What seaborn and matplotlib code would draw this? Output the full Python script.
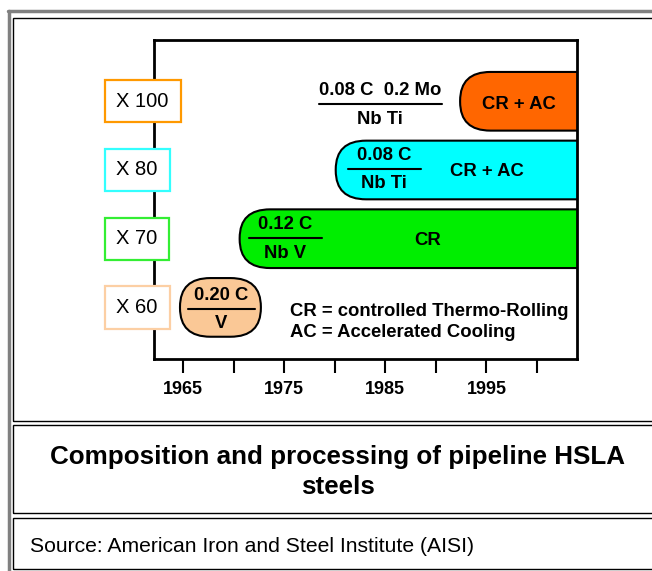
import numpy as np
import pandas as pd
import seaborn as sns
import matplotlib.pyplot as plt
from matplotlib.patches import FancyBboxPatch, Rectangle
from matplotlib.lines import Line2D
import matplotlib.transforms as mtransforms

# data
grades = ['X 100', 'X 80', 'X 70', 'X 60']
start_year = [1992.4, 1980.1, 1970.6, 1964.7]
end_year = [2010.0, 2010.0, 2010.0, 1972.7]
comp_top = ['0.08 C  0.2 Mo', '0.08 C', '0.12 C', '0.20 C']
comp_bottom = ['Nb Ti', 'Nb Ti', 'Nb V', 'V']
process = ['CR + AC', 'CR + AC', 'CR', '']
bar_colors = ['#FF6600', '#00FFFF', '#00EE00', '#FAC896']
label_edge = ['#FF9900', '#33FFFF', '#33EE33', '#FCCFA4']
year_ticks = [1965, 1970, 1975, 1980, 1985, 1990, 1995, 2000]
year_labels = ['1965', '', '1975', '', '1985', '', '1995', '']

sns.set_style('white')
plt.rcParams['font.family'] = ['Liberation Sans', 'DejaVu Sans']
plt.rcParams['text.color'] = 'black'
plt.rcParams['xtick.color'] = 'black'

W, H = 652, 571
fig = plt.figure(figsize=(W / 100, H / 100), dpi=100)
ax = fig.add_axes([154 / W, 1 - 359 / H, (577 - 154) / W, (359 - 40) / H])

df = pd.DataFrame({'grade': grades, 'start': start_year, 'end': end_year})
sns.barplot(data=df, x='end', y='grade', hue='grade', palette=bar_colors,
            orient='h', width=0.854, legend=False, ax=ax)

# turn the plain bars into rounded tabs running from start to end
rows = []
for patch in list(ax.patches):
    rows.append((patch.get_y(), patch.get_height()))
    patch.remove()
rows.sort()
for (y0, h), s, e, c in zip(rows, start_year, end_year, bar_colors):
    box = FancyBboxPatch((s, y0), e - s, h,
                         boxstyle='round,pad=0,rounding_size=3.0',
                         mutation_aspect=0.14, facecolor=c,
                         edgecolor='black', linewidth=1.5, zorder=2)
    ax.add_patch(box)

ax.set_xlim(1962.13, 2003.96)
ax.set_ylim(3.751, -0.892)
ax.set_xlabel('')
ax.set_ylabel('')
ax.set_yticks([])
ax.set_xticks(year_ticks)
ax.set_xticklabels(year_labels, fontweight='bold', fontsize=13)
ax.tick_params(axis='x', direction='out', length=10, width=1.5, pad=6,
               color='black', labelcolor='black', bottom=True)
for sp in ax.spines.values():
    sp.set_visible(True)
    sp.set_color('black')
    sp.set_linewidth(2)

# grade labels in boxes on the left spine
trans = mtransforms.blended_transform_factory(ax.transAxes, ax.transData)
for i, g in enumerate(grades):
    ax.text(-0.0887, i, g, transform=trans, ha='left', va='center',
            fontsize=14.5, clip_on=False, zorder=5,
            bbox=dict(boxstyle='square,pad=0.58', facecolor='white',
                      edgecolor=label_edge[i], linewidth=1.6))

# composition fractions
frac_x = [1984.5, 1984.9, 1975.1, 1968.8]
frac_half = [6.1, 3.6, 3.6, 3.3]
frac_dy = [0.04, -0.02, -0.01, 0.02]
for i in range(len(grades)):
    yc = i + frac_dy[i]
    ax.text(frac_x[i], yc - 0.19, comp_top[i], ha='center', va='center',
            fontsize=13.3, fontweight='bold', zorder=4)
    ax.text(frac_x[i], yc + 0.22, comp_bottom[i], ha='center', va='center',
            fontsize=13.3, fontweight='bold', zorder=4)
    ax.add_line(Line2D([frac_x[i] - frac_half[i], frac_x[i] + frac_half[i]],
                       [yc, yc], color='black', linewidth=1.5, zorder=4))

# processing route
proc_x = [1998.2, 1995.1, 1989.2]
proc_dy = [0.05, 0.02, 0.02]
for i, p in enumerate(process):
    if p:
        ax.text(proc_x[i], i + proc_dy[i], p, ha='center', va='center',
                fontsize=13.3, fontweight='bold', zorder=4)

ax.text(1975.6, 3.06, 'CR = controlled Thermo-Rolling', ha='left',
        va='center', fontsize=13.3, fontweight='bold')
ax.text(1975.6, 3.37, 'AC = Accelerated Cooling', ha='left',
        va='center', fontsize=13.3, fontweight='bold')

# page frame
def px(x, y):
    return (x / W, 1 - y / H)

fig.add_artist(Line2D([px(8.5, 0)[0]] * 2, [px(0, 11)[1], px(0, 575)[1]],
                      color='#808080', linewidth=2.5, transform=fig.transFigure))
fig.add_artist(Line2D([px(7.5, 0)[0], px(660, 0)[0]], [px(0, 11)[1]] * 2,
                      color='#808080', linewidth=2.5, transform=fig.transFigure))
for top, bot in [(17.5, 420.5), (425.5, 512.5), (517.5, 568.5)]:
    x0, y1 = px(13.5, top)
    x1, y0 = px(670, bot)
    fig.add_artist(Rectangle((x0, y0), x1 - x0, y1 - y0, fill=False,
                             edgecolor='black', linewidth=1,
                             transform=fig.transFigure))

fig.text(338 / W, 1 - 472 / H, 'Composition and processing of pipeline HSLA\nsteels',
         ha='center', va='center', fontsize=18.7, fontweight='bold',
         linespacing=1.3)
fig.text(30 / W, 1 - 546 / H, 'Source: American Iron and Steel Institute (AISI)',
         ha='left', va='center', fontsize=15.2)

fig.savefig('out.png', dpi=100)
